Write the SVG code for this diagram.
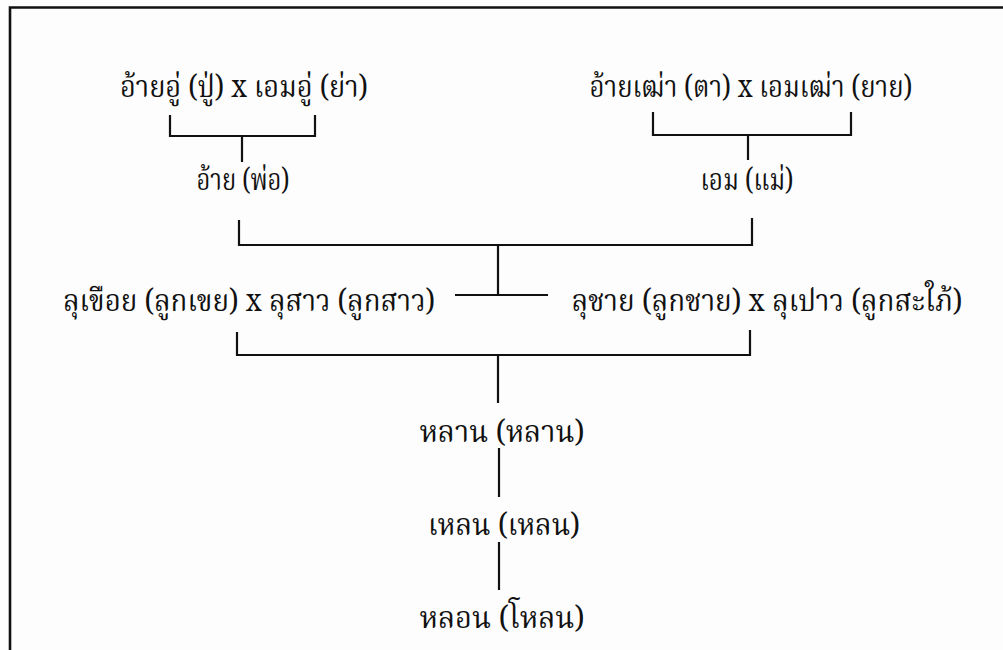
<svg xmlns="http://www.w3.org/2000/svg" width="1003" height="650" viewBox="0 0 1003 650">
<style>
.t{font-family:"Noto Serif Thai","Noto Sans Thai","Liberation Serif","DejaVu Serif",serif;font-size:30px;fill:#111;text-anchor:middle}
.c{stroke:#111;stroke-width:2.2;fill:none}
.f{stroke:#111;stroke-width:2.6;fill:none}
</style>
<rect width="1003" height="650" fill="#fdfdfd"/>
<g id="frame"><path class="f" d="M10 650 V7.5 H1003"/></g>
<g id="connectors">
<path class="c" d="M170 115 V136 H315 V115 M242 136 V162"/>
<path class="c" d="M653 112 V135 H851 V112 M748 135 V160"/>
<path class="c" d="M239 220 V245 H752 V218 M498 245 V295 M455 295 H548"/>
<path class="c" d="M237 332 V355 H750 V330 M498 355 V403"/>
<path class="c" d="M499 448 V497"/>
<path class="c" d="M499 542 V590"/>
</g>
<g id="n1"><text class="t" x="244" y="97" textLength="248" lengthAdjust="spacingAndGlyphs">อ้ายอู่ (ปู่) x เอมอู่ (ย่า)</text></g>
<g id="n2"><text class="t" x="751" y="97" textLength="323" lengthAdjust="spacingAndGlyphs">อ้ายเฒ่า (ตา) x เอมเฒ่า (ยาย)</text></g>
<g id="n3"><text class="t" x="243" y="190" textLength="93" lengthAdjust="spacingAndGlyphs">อ้าย (พ่อ)</text></g>
<g id="n4"><text class="t" x="747" y="190" textLength="93" lengthAdjust="spacingAndGlyphs">เอม (แม่)</text></g>
<g id="n5"><text class="t" x="249" y="311" textLength="372" lengthAdjust="spacingAndGlyphs">ลุเขือย (ลูกเขย) x ลุสาว (ลูกสาว)</text></g>
<g id="n6"><text class="t" x="767" y="311" textLength="391" lengthAdjust="spacingAndGlyphs">ลุชาย (ลูกชาย) x ลุเปาว (ลูกสะใภ้)</text></g>
<g id="n7"><text class="t" x="502" y="442" textLength="165" lengthAdjust="spacingAndGlyphs">หลาน (หลาน)</text></g>
<g id="n8"><text class="t" x="504" y="535" textLength="152" lengthAdjust="spacingAndGlyphs">เหลน (เหลน)</text></g>
<g id="n9"><text class="t" x="502" y="628" textLength="165" lengthAdjust="spacingAndGlyphs">หลอน (โหลน)</text></g>
</svg>
